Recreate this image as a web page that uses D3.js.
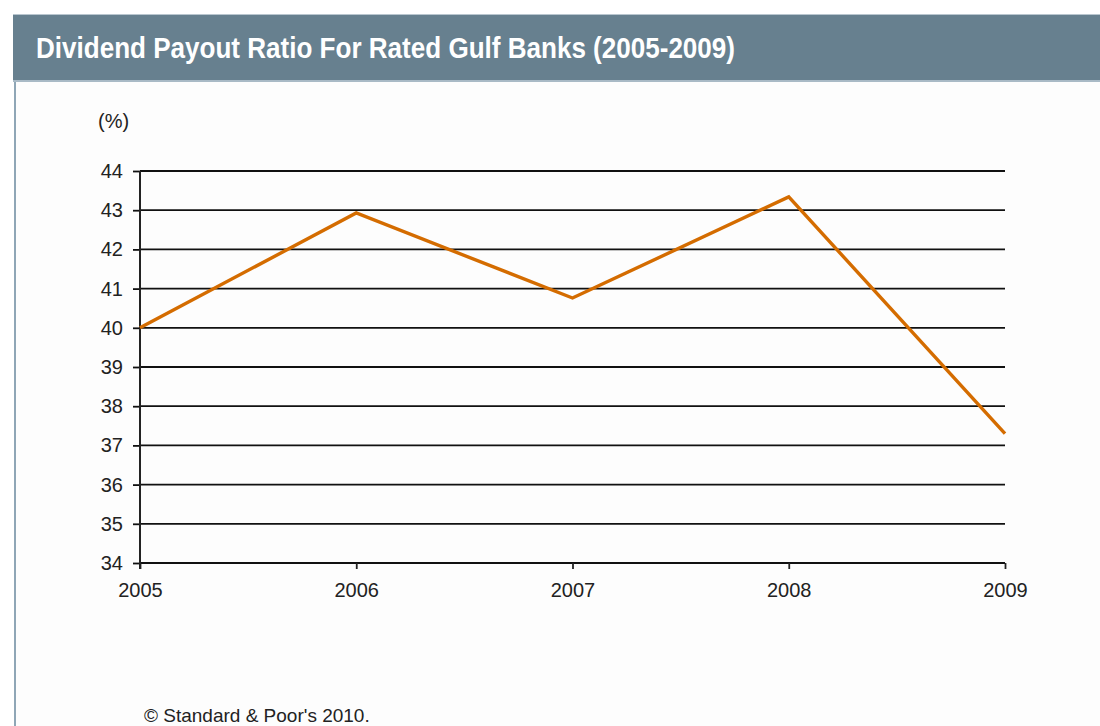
<!DOCTYPE html>
<html>
<head>
<meta charset="utf-8">
<script src="https://cdn.jsdelivr.net/npm/d3@7"></script>
<style>
  html, body { margin: 0; padding: 0; background: #ffffff; }
  svg { display: block; }
</style>
</head>
<body>
<svg id="chart" width="1100" height="726"></svg>
<script>
// Dividend payout ratio, rated Gulf banks
const years = ["2005", "2006", "2007", "2008", "2009"];
const payoutRatio = [40.0, 42.93, 40.76, 43.34, 37.3];
const yTicks = [34, 35, 36, 37, 38, 39, 40, 41, 42, 43, 44];

const titleText = "Dividend Payout Ratio For Rated Gulf Banks (2005-2009)";
const unitText = "(%)";
const sourceText = "\u00A9 Standard & Poor's 2010.";

const svg = d3.select("#chart");

// Panel and header band
svg.append("rect").attr("x", 14).attr("y", 14).attr("width", 1086).attr("height", 712)
  .attr("fill", "#fdfdfd");
svg.append("line").attr("x1", 15).attr("x2", 15).attr("y1", 80).attr("y2", 726)
  .attr("stroke", "#8fa6b6").attr("stroke-width", 2);
svg.append("rect").attr("x", 13).attr("y", 14).attr("width", 1087).attr("height", 67)
  .attr("fill", "#67808f");
svg.append("line").attr("x1", 13).attr("x2", 1100).attr("y1", 14.5).attr("y2", 14.5)
  .attr("stroke", "#b9c6cf").attr("stroke-width", 1);
svg.append("line").attr("x1", 13).attr("x2", 1100).attr("y1", 81).attr("y2", 81)
  .attr("stroke", "#a9bac6").attr("stroke-width", 2);

// Condensed header title
svg.append("text")
  .attr("x", 36).attr("y", 58)
  .attr("fill", "#ffffff")
  .attr("font-family", "'Liberation Sans Narrow', 'Arial Narrow', 'Liberation Sans', sans-serif")
  .attr("font-weight", "bold")
  .attr("font-size", 29)
  .attr("textLength", 699)
  .attr("lengthAdjust", "spacingAndGlyphs")
  .text(titleText);

// Plot scales
const x = d3.scalePoint().domain(years).range([140, 1005]);
const y = d3.scaleLinear().domain([34, 44]).range([563, 171]);

const font = "'Liberation Sans', Arial, sans-serif";

// Horizontal gridlines with left tick marks
const yAxis = d3.axisLeft(y).tickValues(yTicks).tickSize(7).tickPadding(10).tickFormat(d3.format("d"));
const gy = svg.append("g").attr("transform", "translate(140,0)").call(yAxis);
gy.select(".domain").remove();
gy.selectAll(".tick line").attr("stroke", "#111").attr("stroke-width", 1.8);
gy.selectAll(".tick text").attr("font-family", font).attr("font-size", 20).attr("fill", "#222");

svg.append("g").selectAll("line").data(yTicks).join("line")
  .attr("x1", 140).attr("x2", 1005)
  .attr("y1", d => y(d)).attr("y2", d => y(d))
  .attr("stroke", "#111").attr("stroke-width", 1.8);

// Vertical axis line
svg.append("line").attr("x1", 140).attr("x2", 140).attr("y1", y(44)).attr("y2", y(34) + 6)
  .attr("stroke", "#222").attr("stroke-width", 2);

// Category axis with small downward ticks
const xAxis = d3.axisBottom(x).tickSize(6).tickPadding(14);
const gx = svg.append("g").attr("transform", `translate(0,${y(34)})`).call(xAxis);
gx.select(".domain").remove();
gx.selectAll(".tick line").attr("stroke", "#222").attr("stroke-width", 1.8);
gx.selectAll(".tick text").attr("font-family", font).attr("font-size", 20).attr("fill", "#222");

// Unit label
svg.append("text").attr("x", 98).attr("y", 128)
  .attr("font-family", font).attr("font-size", 20).attr("fill", "#222")
  .text(unitText);

// Series line
const line = d3.line().x((d, i) => x(years[i])).y(d => y(d));
svg.append("path").datum(payoutRatio)
  .attr("d", line)
  .attr("fill", "none")
  .attr("stroke", "#d46c00")
  .attr("stroke-width", 3.4)
  .attr("stroke-linejoin", "miter");

// Source note
svg.append("text").attr("x", 144).attr("y", 722)
  .attr("font-family", font).attr("font-size", 19).attr("fill", "#222")
  .text(sourceText);
</script>
</body>
</html>
